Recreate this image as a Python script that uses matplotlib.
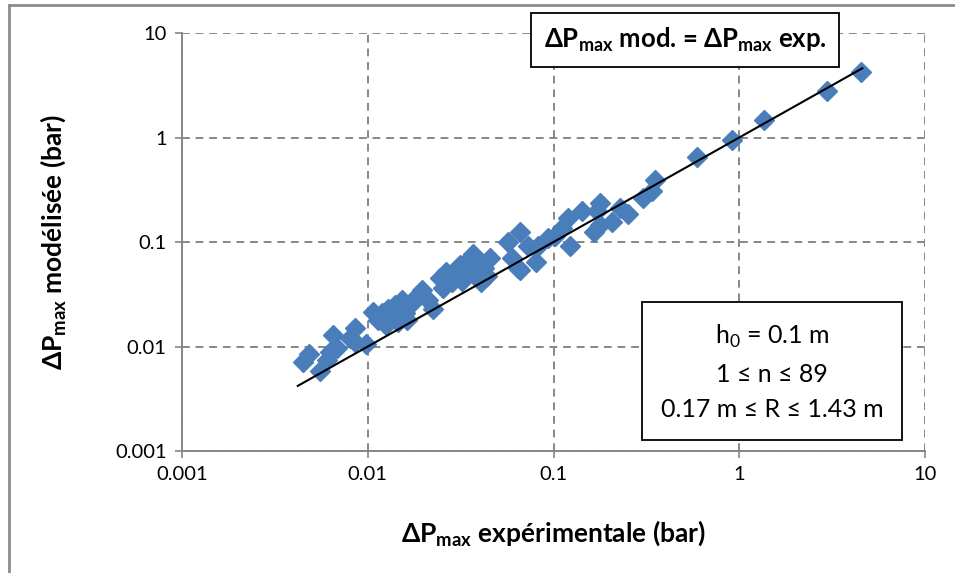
import matplotlib
matplotlib.use("Agg")
import matplotlib.pyplot as plt
from matplotlib.lines import Line2D

plt.rcParams['font.family'] = ['Lato', 'DejaVu Sans']
plt.rcParams['mathtext.fontset'] = 'custom'
plt.rcParams['mathtext.rm'] = 'Lato'
plt.rcParams['mathtext.bf'] = 'Lato:bold'

# measured vs modelled pressure peaks (bar)
dp_exp = [0.0045, 0.0048, 0.0055, 0.0060, 0.0065, 0.0068, 0.0063, 0.0080, 0.0085, 0.0085,
          0.0098, 0.0107, 0.0113, 0.0119, 0.0125, 0.0128, 0.0133, 0.0140, 0.0145, 0.0152,
          0.0158, 0.0163, 0.0173, 0.0187, 0.0196, 0.0210, 0.0224, 0.0245, 0.0253, 0.0263,
          0.0284, 0.0295, 0.0313, 0.0322, 0.0334, 0.0355, 0.0368, 0.0375, 0.0393, 0.0408,
          0.0425, 0.0440, 0.0455, 0.0569, 0.0595, 0.064, 0.066, 0.066, 0.073, 0.080,
          0.082, 0.093, 0.102, 0.111, 0.122, 0.119, 0.142, 0.166, 0.171, 0.178,
          0.178, 0.206, 0.228, 0.252, 0.305, 0.337, 0.350, 0.59, 0.91, 1.36,
          2.97, 4.52]
dp_mod = [0.0071, 0.0085, 0.0058, 0.0074, 0.0129, 0.0097, 0.0089, 0.0121, 0.0150, 0.0110,
          0.0106, 0.0214, 0.0180, 0.0210, 0.0160, 0.0230, 0.0190, 0.0250, 0.0170, 0.0280,
          0.0210, 0.0180, 0.0260, 0.0310, 0.0350, 0.0280, 0.0230, 0.0450, 0.0360, 0.0520,
          0.0410, 0.0470, 0.0600, 0.0420, 0.0540, 0.0700, 0.0770, 0.0520, 0.0640, 0.0410,
          0.0570, 0.0470, 0.0700, 0.100, 0.070, 0.057, 0.125, 0.054, 0.092, 0.064,
          0.092, 0.110, 0.115, 0.135, 0.092, 0.170, 0.200, 0.125, 0.200, 0.235,
          0.145, 0.155, 0.210, 0.185, 0.265, 0.310, 0.390, 0.65, 0.94, 1.47,
          2.79, 4.24]

# identity line
line_x = [0.0042, 4.6]
line_y = [0.0042, 4.6]

fig = plt.figure(figsize=(9.55, 5.73), dpi=100)
ax = fig.add_axes([0.1906, 0.2129, 0.778, 0.7295])

ax.plot(dp_exp, dp_mod, linestyle='none', marker='D', markersize=10.5,
        markerfacecolor='#4a7ebb', markeredgecolor='#4a7ebb', zorder=3)
ax.plot(line_x, line_y, color='black', linewidth=1.5, zorder=4)

ax.set_xscale('log')
ax.set_yscale('log')
ax.set_xlim(0.001, 10)
ax.set_ylim(0.001, 10)
ticks = [0.001, 0.01, 0.1, 1, 10]
labels = ['0.001', '0.01', '0.1', '1', '10']
ax.set_xticks(ticks)
ax.set_xticklabels(labels)
ax.set_yticks(ticks)
ax.set_yticklabels(labels)
ax.minorticks_off()
ax.tick_params(labelsize=14.5, color='#868686', length=5, width=1.2, pad=6)

ax.grid(True, color='#878787', linestyle=(0, (4, 3)), linewidth=1.4)
ax.set_axisbelow(True)
for s in ['top', 'right']:
    ax.spines[s].set_visible(False)
for s in ['left', 'bottom']:
    ax.spines[s].set_color('#868686')
    ax.spines[s].set_linewidth(1.4)

ax.set_xlabel(r'ΔP$_{\mathbf{max}}$ expérimentale (bar)', fontsize=19,
              fontweight='bold', labelpad=25)
ax.set_ylabel(r'ΔP$_{\mathbf{max}}$ modélisée (bar)', fontsize=19,
              fontweight='bold', labelpad=34)

ax.text(0.677, 0.983, r'ΔP$_{\mathbf{max}}$ mod. = ΔP$_{\mathbf{max}}$ exp.',
        transform=ax.transAxes, ha='center', va='center', fontsize=18.5,
        fontweight='bold',
        bbox=dict(boxstyle='square,pad=0.5', facecolor='white',
                  edgecolor='black', linewidth=1.3), zorder=5)

ax.text(0.794, 0.189, 'h$_{\\mathrm{0}}$ = 0.1 m\n1 ≤ n ≤ 89\n0.17 m ≤ R ≤ 1.43 m',
        transform=ax.transAxes, ha='center', va='center', fontsize=18,
        linespacing=1.65,
        bbox=dict(boxstyle='square,pad=0.75', facecolor='white',
                  edgecolor='black', linewidth=1.3), zorder=5)

# chart area border
fig.add_artist(Line2D([0.0095, 0.0095], [0, 0.991], color='#8c8c8c', linewidth=2))
fig.add_artist(Line2D([0.0095, 1], [0.991, 0.991], color='#8c8c8c', linewidth=2))

fig.savefig('out.png', dpi=100)
